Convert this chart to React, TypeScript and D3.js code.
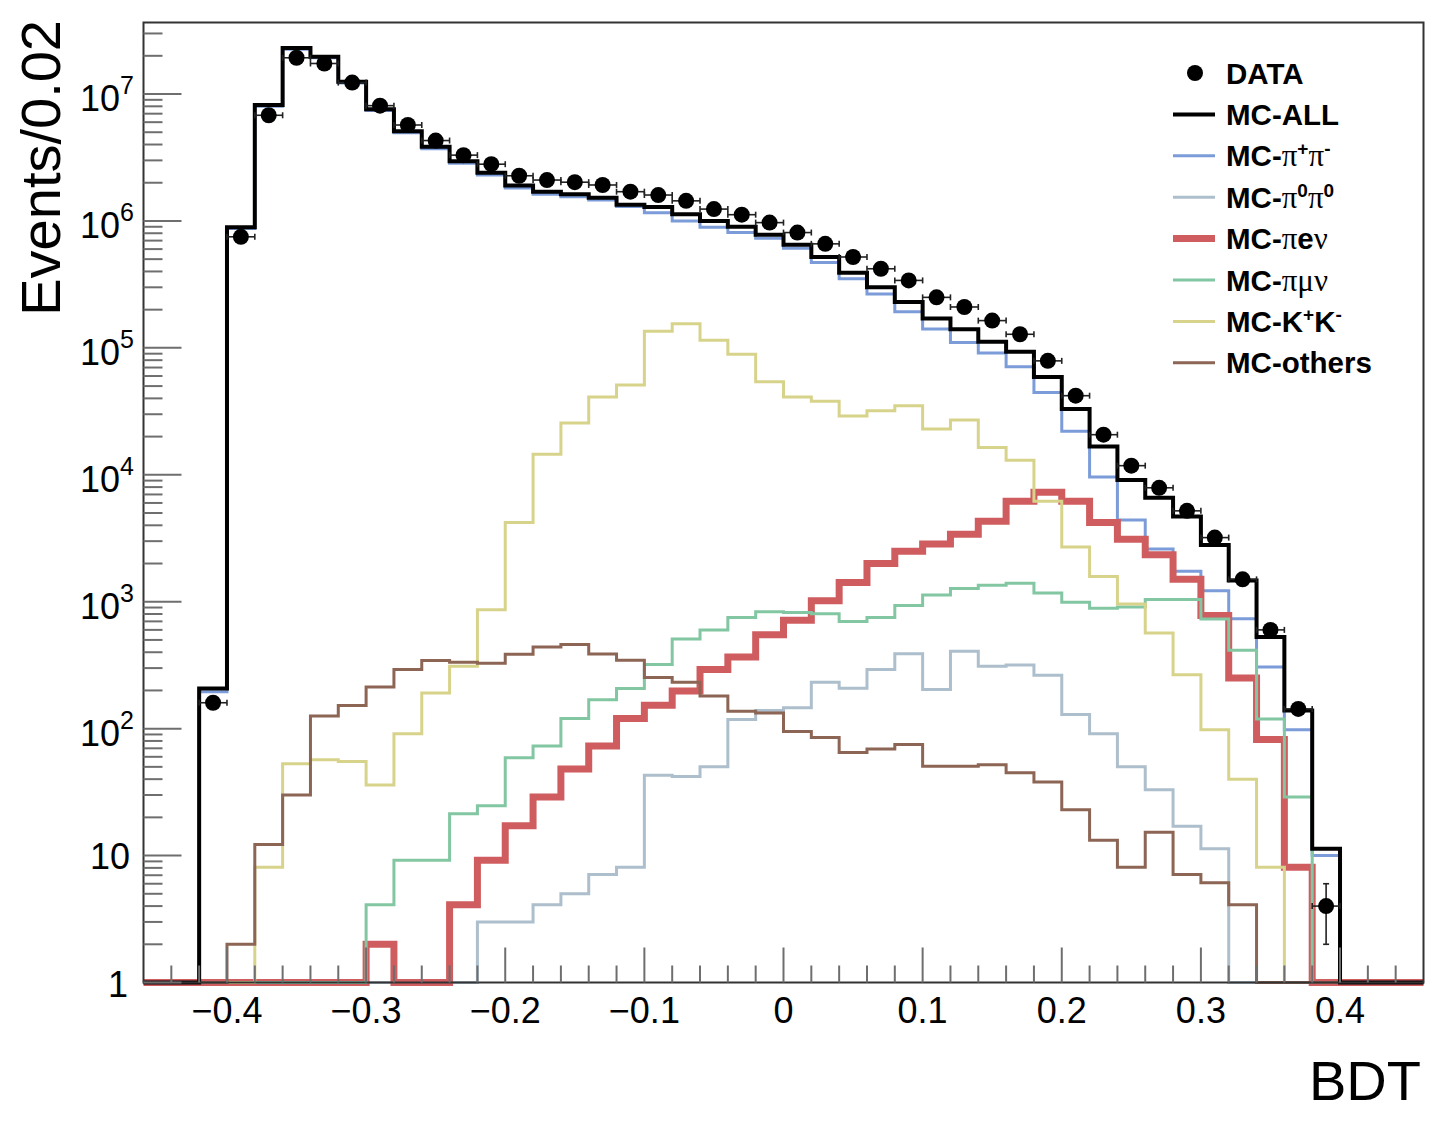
import * as d3 from 'd3';
import React from 'react';

// BDT output, 46 bins of 0.02 from -0.46 to 0.46 (bin centres -0.45 ... 0.45)
const binLow = -0.46;
const binWidth = 0.02;
const nBins = 46;

const dataCounts = [
  0, 0, 160, 7.5e5, 6.8e6, 1.93e7, 1.74e7, 1.23e7, 8.1e6, 5.7e6, 4.3e6, 3.3e6,
  2.8e6, 2.27e6, 2.1e6, 2.02e6, 1.92e6, 1.7e6, 1.6e6, 1.44e6, 1.24e6, 1.12e6,
  9.7e5, 8.1e5, 6.6e5, 5.2e5, 4.2e5, 3.4e5, 2.5e5, 2.1e5, 1.64e5, 1.28e5,
  7.9e4, 4.2e4, 2.07e4, 1.18e4, 7.9e3, 5.2e3, 3.2e3, 1.5e3, 600, 143, 4, 0, 0, 0,
];

const mcAll = [
  0, 0, 207, 8.9e5, 8.2e6, 2.3e7, 1.97e7, 1.25e7, 7.6e6, 5.1e6, 3.85e6, 2.95e6,
  2.4e6, 1.9e6, 1.7e6, 1.62e6, 1.52e6, 1.34e6, 1.29e6, 1.13e6, 1.0e6, 9.0e5,
  7.8e5, 6.5e5, 5.2e5, 3.9e5, 3.0e5, 2.3e5, 1.7e5, 1.4e5, 1.12e5, 9.3e4,
  5.9e4, 3.3e4, 1.67e4, 9.1e3, 6.6e3, 4.7e3, 2.8e3, 1.47e3, 527, 139, 11.3, 0, 0, 0,
];

const mcPiPi = [
  0, 0, 195, 8.7e5, 8.0e6, 2.25e7, 1.93e7, 1.22e7, 7.4e6, 4.95e6, 3.7e6, 2.85e6,
  2.3e6, 1.82e6, 1.62e6, 1.55e6, 1.46e6, 1.3e6, 1.16e6, 1.0e6, 8.9e5, 8.1e5,
  7.3e5, 6.1e5, 4.7e5, 3.5e5, 2.66e5, 1.93e5, 1.41e5, 1.1e5, 9.1e4, 7.1e4,
  4.45e4, 2.2e4, 9.6e3, 4.4e3, 2.6e3, 1.74e3, 1.22e3, 735, 306, 98, 10, 0, 0, 0,
];

const mcPi0Pi0 = [
  0, 0, 0, 0, 0, 0, 0, 0, 0, 0, 0, 0,
  3.0, 3.0, 4.1, 5.0, 7.1, 8.1, 43, 42, 50, 118, 139, 146, 232, 208, 292, 390,
  203, 407, 310, 318, 263, 129, 91, 50, 33, 17, 11.3,
  0, 0, 0, 0, 0, 0, 0,
];

const mcPiENu = [
  0, 0, 0, 0, 0, 0, 0, 0, 2.0, 0, 0, 4.1, 9.2, 17.2, 29, 48, 73, 120, 153, 198,
  293, 367, 550, 713, 1020, 1420, 2000, 2500, 2850, 3400, 4300, 6200, 7300,
  6200, 4200, 3100, 2350, 1500, 780, 251, 82, 8.1, 0, 0, 0, 0,
];

const mcPiMuNu = [
  0, 0, 0, 0, 0, 0, 0, 0, 4.1, 9.2, 9.2, 21.4, 24.7, 59, 73, 120, 169, 207, 320,
  508, 600, 752, 835, 824, 804, 700, 752, 935, 1130, 1270, 1350, 1400, 1170,
  990, 890, 908, 1040, 1040, 731, 414, 119, 29, 0, 0, 0, 0,
];

const mcKK = [
  0, 0, 0, 0, 8.1, 53, 57, 55, 36, 91, 191, 310, 865, 4200, 14500, 25600, 41000,
  51000, 135000, 155000, 115000, 89000, 54000, 41000, 38000, 29000, 32000,
  35000, 23000, 27000, 16400, 13000, 6200, 2700, 1580, 960, 568, 266, 98, 40,
  8.1, 0, 0, 0, 0, 0,
];

const mcOthers = [
  0, 0, 0, 2.0, 12.2, 30, 126, 152, 213, 292, 344, 334, 327, 385, 440, 460, 387,
  346, 253, 232, 181, 137, 133, 95, 85, 65, 69, 75, 50.5, 50.5, 52, 45, 38, 23,
  13.2, 8.1, 15.3, 7.1, 6.1, 4.1, 0, 0, 0, 0, 0, 0,
];

const xTicksMajor = [-0.4, -0.3, -0.2, -0.1, 0, 0.1, 0.2, 0.3, 0.4];
const yDecades = [0, 1, 2, 3, 4, 5, 6, 7];

type Seg = { t: string; greek?: boolean; sup?: boolean };

const histos = [
  { name: 'pipi', values: mcPiPi, color: '#7b9cd8', width: 3 },
  { name: 'pi0pi0', values: mcPi0Pi0, color: '#adbfcc', width: 3 },
  { name: 'pienu', values: mcPiENu, color: '#cf5d5f', width: 7 },
  { name: 'pimunu', values: mcPiMuNu, color: '#82c6a2', width: 3 },
  { name: 'kk', values: mcKK, color: '#d8d38a', width: 3 },
  { name: 'others', values: mcOthers, color: '#8c6554', width: 3 },
  { name: 'all', values: mcAll, color: '#000000', width: 4 },
];

const legendItems: { label: Seg[]; color: string; width: number; marker?: boolean }[] = [
  { label: [{ t: 'DATA' }], color: '#000', width: 0, marker: true },
  { label: [{ t: 'MC-ALL' }], color: '#000000', width: 4 },
  {
    label: [{ t: 'MC-' }, { t: 'π', greek: true }, { t: '+', sup: true }, { t: 'π', greek: true }, { t: '-', sup: true }],
    color: '#7b9cd8', width: 3,
  },
  {
    label: [{ t: 'MC-' }, { t: 'π', greek: true }, { t: '0', sup: true }, { t: 'π', greek: true }, { t: '0', sup: true }],
    color: '#adbfcc', width: 3,
  },
  {
    label: [{ t: 'MC-' }, { t: 'π', greek: true }, { t: 'e' }, { t: 'ν', greek: true }],
    color: '#cf5d5f', width: 7,
  },
  {
    label: [{ t: 'MC-' }, { t: 'π', greek: true }, { t: 'μ', greek: true }, { t: 'ν', greek: true }],
    color: '#82c6a2', width: 3,
  },
  {
    label: [{ t: 'MC-K' }, { t: '+', sup: true }, { t: 'K' }, { t: '-', sup: true }],
    color: '#d8d38a', width: 3,
  },
  { label: [{ t: 'MC-others' }], color: '#8c6554', width: 3 },
];

const W = 1452;
const H = 1122;
const frame = { left: 143.5, right: 1423.5, top: 22.5, bottom: 982.5 };
const sans = '"Liberation Sans", Arial, Helvetica, sans-serif';
const serif = '"Liberation Serif", "DejaVu Serif", serif';

const x = d3.scaleLinear().domain([-0.46, 0.46]).range([frame.left, frame.right]);
const y = d3.scaleLog().domain([1, 3.66e7]).range([frame.bottom, frame.top]);

const stepPath = (values: number[]) => {
  const pts: [number, number][] = [];
  values.forEach((v, i) => {
    const lo = binLow + i * binWidth;
    const yv = y(Math.max(v, 1));
    pts.push([x(lo), yv], [x(lo + binWidth), yv]);
  });
  return d3.line()(pts) ?? '';
};

const fmtX = d3.format('.1~f');

const LegendText: React.FC<{ segs: Seg[]; x: number; y: number }> = ({ segs, x: tx, y: ty }) => {
  let prevSup = false;
  return (
    <text x={tx} y={ty} fontFamily={sans} fontWeight='bold' fontSize={29.5} fill='#000'>
      {segs.map((s, i) => {
        const dy = (s.sup ? -11 : 0) - (prevSup ? -11 : 0);
        prevSup = !!s.sup;
        return (
          <tspan
            key={i}
            dy={dy}
            fontFamily={s.greek ? serif : sans}
            fontWeight={s.greek ? 'normal' : 'bold'}
            fontSize={s.sup ? 19 : s.greek ? 31 : 29.5}
          >
            {s.t}
          </tspan>
        );
      })}
    </text>
  );
};

const App: React.FC = () => {
  const minorX = d3.range(-0.44, 0.4401, 0.02).filter(
    (v) => !xTicksMajor.some((m) => Math.abs(m - v) < 1e-6)
  );
  const minorY: number[] = [];
  yDecades.forEach((k) => {
    for (let m = 2; m <= 9; m++) {
      const v = m * Math.pow(10, k);
      if (v < 3.66e7) minorY.push(v);
    }
  });

  const binsWithData = d3.range(nBins).filter((i) => dataCounts[i] > 0);

  return (
    <div style={{ position: 'absolute', left: 0, top: 0 }}>
      <svg width={W} height={H} style={{ display: 'block', background: 'white' }}>
        <rect x={0} y={0} width={W} height={H} fill='white' />

        {/* histograms */}
        <g fill='none' strokeLinejoin='miter' strokeLinecap='butt'>
          {histos.map((h) => (
            <path key={h.name} d={stepPath(h.values)} stroke={h.color} strokeWidth={h.width} />
          ))}
        </g>

        {/* data points with error bars */}
        <g stroke='#222' strokeWidth={1.6}>
          {binsWithData.map((i) => {
            const c = binLow + (i + 0.5) * binWidth;
            const v = dataCounts[i];
            const err = Math.sqrt(v);
            const cx = x(c);
            const cy = y(v);
            const x0 = x(c - binWidth / 2);
            const x1 = x(c + binWidth / 2);
            const yTop = y(v + err);
            const yBot = y(Math.max(v - err, 1));
            return (
              <g key={i}>
                <line x1={x0} x2={x1} y1={cy} y2={cy} />
                <line x1={x0} x2={x0} y1={cy - 3} y2={cy + 3} />
                <line x1={x1} x2={x1} y1={cy - 3} y2={cy + 3} />
                {cy - yTop > 9 && (
                  <>
                    <line x1={cx} x2={cx} y1={yTop} y2={yBot} />
                    <line x1={cx - 3} x2={cx + 3} y1={yTop} y2={yTop} />
                    <line x1={cx - 3} x2={cx + 3} y1={yBot} y2={yBot} />
                  </>
                )}
                <circle cx={cx} cy={cy} r={8} fill='#000' stroke='none' />
              </g>
            );
          })}
        </g>

        {/* frame */}
        <rect
          x={frame.left}
          y={frame.top}
          width={frame.right - frame.left}
          height={frame.bottom - frame.top}
          fill='none'
          stroke='#333'
          strokeWidth={2}
        />

        {/* x axis ticks */}
        <g stroke='#6e6e6e' strokeWidth={2}>
          {xTicksMajor.map((t) => (
            <line key={'M' + t} x1={x(t)} x2={x(t)} y1={frame.bottom} y2={frame.bottom - 35} />
          ))}
          {minorX.map((t) => (
            <line key={'m' + t} x1={x(t)} x2={x(t)} y1={frame.bottom} y2={frame.bottom - 17} />
          ))}
        </g>
        <g fontFamily={sans} fontSize={36} textAnchor='middle' fill='#000'>
          {xTicksMajor.map((t) => (
            <text key={t} x={x(t)} y={1023}>
              {fmtX(t)}
            </text>
          ))}
        </g>
        <text x={1421} y={1100} fontFamily={sans} fontSize={56} textAnchor='end'>
          BDT
        </text>

        {/* y axis ticks */}
        <g stroke='#6e6e6e' strokeWidth={2}>
          {yDecades.map((k) => (
            <line key={'M' + k} x1={frame.left} x2={frame.left + 38} y1={y(Math.pow(10, k))} y2={y(Math.pow(10, k))} />
          ))}
          {minorY.map((v) => (
            <line key={'m' + v} x1={frame.left} x2={frame.left + 19} y1={y(v)} y2={y(v)} />
          ))}
        </g>
        <g fontFamily={sans} fontSize={36} textAnchor='end' fill='#000'>
          {yDecades.map((k) => {
            const ty = y(Math.pow(10, k));
            if (k === 0) return <text key={k} x={128} y={ty + 14}>1</text>;
            if (k === 1) return <text key={k} x={130} y={ty + 13}>10</text>;
            return (
              <text key={k} x={134} y={ty + 17}>
                <tspan>10</tspan>
                <tspan fontSize={25} dy={-17}>{k}</tspan>
              </text>
            );
          })}
        </g>
        <text
          transform='translate(60,20) rotate(-90)'
          fontFamily={sans}
          fontSize={56}
          textAnchor='end'
        >
          Events/0.02
        </text>

        {/* legend */}
        <g>
          {legendItems.map((item, i) => {
            const cy = 73 + i * 41.4;
            return (
              <g key={i}>
                {item.marker ? (
                  <circle cx={1195} cy={cy} r={8} fill='#000' />
                ) : (
                  <line x1={1173} x2={1215} y1={cy} y2={cy} stroke={item.color} strokeWidth={item.width} />
                )}
                <LegendText segs={item.label} x={1226} y={cy + 10.5} />
              </g>
            );
          })}
        </g>
      </svg>
    </div>
  );
};

export default App;
